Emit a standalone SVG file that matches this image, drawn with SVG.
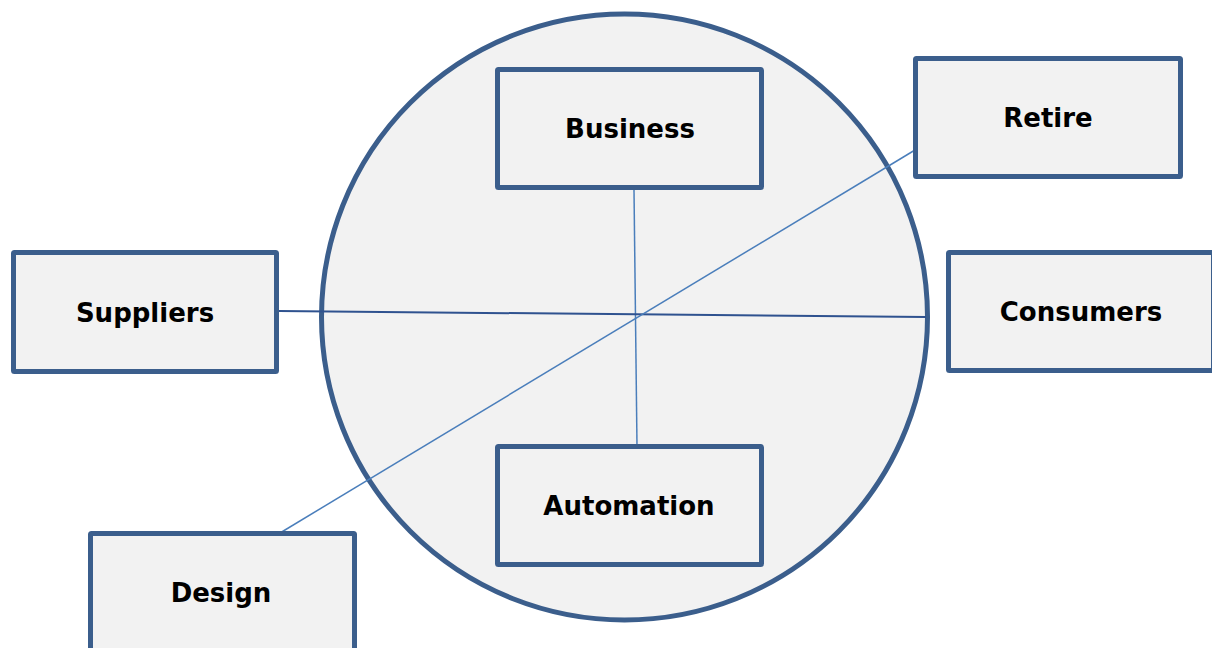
<svg xmlns="http://www.w3.org/2000/svg" width="1212" height="648" viewBox="0 0 1212 648">
<style>
.box{fill:#f2f2f2;stroke:#3b5e8c;stroke-width:5}
.lbl{font-family:"DejaVu Sans",Verdana,sans-serif;font-weight:bold;font-size:26px;fill:#000;text-anchor:middle}
.ln{stroke:#4a7ebb;stroke-width:1.5;fill:none}
.ln2{stroke:#2f528f;stroke-width:2;fill:none}
</style>
<rect width="1212" height="648" fill="#fff"/>
<g id="circle"><circle cx="624.5" cy="317" r="303" fill="#f2f2f2" stroke="#3b5e8c" stroke-width="5"/></g>
<g id="connectors">
<line class="ln" x1="634" y1="190" x2="637" y2="446"/>
<line class="ln2" x1="279" y1="311" x2="926" y2="317"/>
<line class="ln" x1="280" y1="533" x2="915" y2="150"/>
</g>
<g id="business"><rect class="box" x="497.5" y="69.5" width="264" height="118" rx="1"/><text class="lbl" x="630" y="138">Business</text></g>
<g id="retire"><rect class="box" x="915.5" y="58.5" width="265" height="118" rx="1"/><text class="lbl" x="1048" y="127">Retire</text></g>
<g id="suppliers"><rect class="box" x="13.5" y="252.5" width="263" height="119" rx="1"/><text class="lbl" x="145" y="322">Suppliers</text></g>
<g id="consumers"><rect class="box" x="948.5" y="252.5" width="265" height="118" rx="1"/><text class="lbl" x="1081" y="321">Consumers</text></g>
<g id="automation"><rect class="box" x="497.5" y="446.5" width="264" height="118" rx="1"/><text class="lbl" x="629" y="515">Automation</text></g>
<g id="design"><rect class="box" x="90.5" y="533.5" width="264" height="130" rx="1"/><text class="lbl" x="221" y="602">Design</text></g>
</svg>
